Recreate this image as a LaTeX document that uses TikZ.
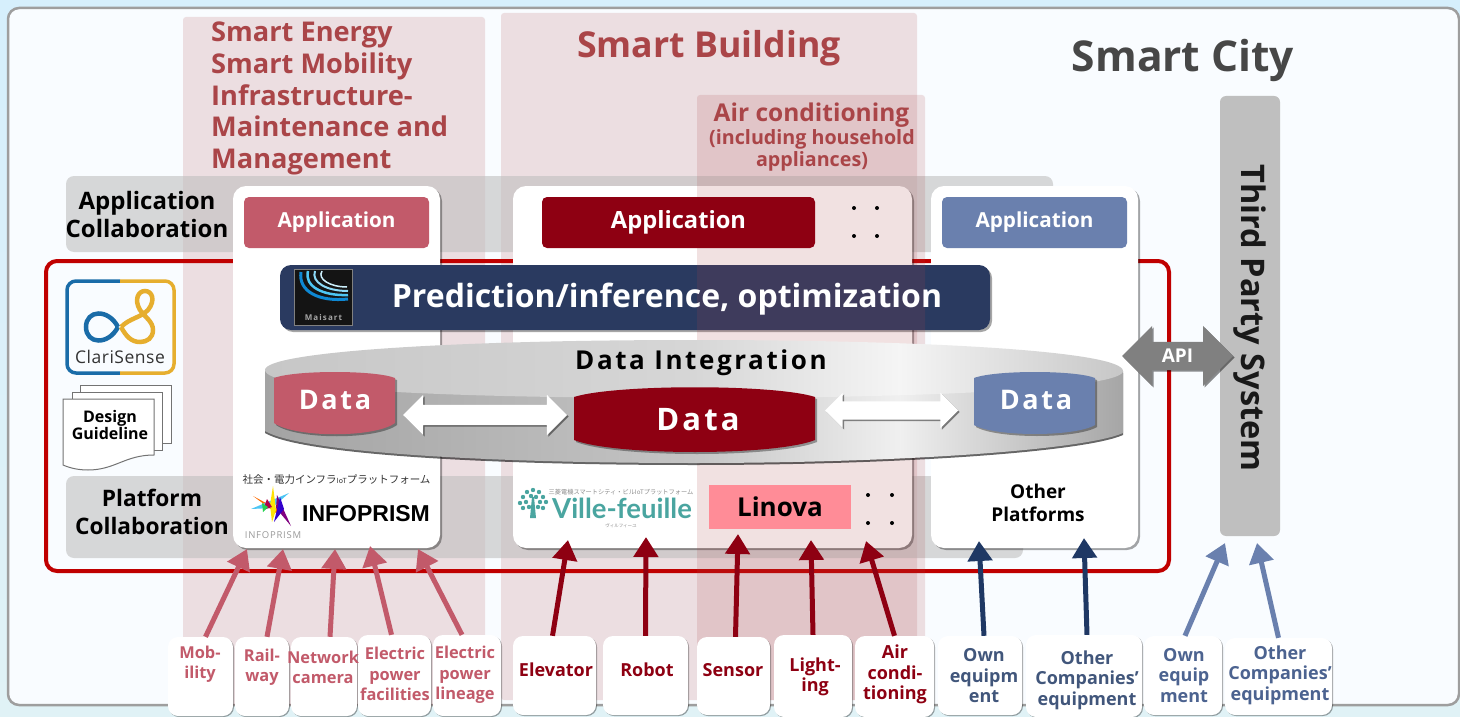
\documentclass[tikz,border=0pt]{standalone}
\usepackage{fontspec}
\setmainfont{Open Sans}
\newfontfamily\cjkfont{Noto Sans CJK JP}
\newfontfamily\latofont{Lato}
\newfontfamily\arialfont{Liberation Sans}
\usetikzlibrary{positioning,shapes.arrows,shadows,arrows.meta}
\definecolor{pinkred}{HTML}{C25A6A}
\definecolor{deepred}{HTML}{8E0012}
\definecolor{steelblue}{HTML}{6A80AE}
\definecolor{navyblue}{HTML}{1F3864}
\definecolor{barblue}{HTML}{2A3A60}
\definecolor{titlered}{HTML}{AA4548}
\definecolor{frame}{HTML}{C00000}
\definecolor{teal}{HTML}{4AA5A0}
\definecolor{skytop}{HTML}{D6EFFC}
\definecolor{skyend}{HTML}{E0F2F6}
\definecolor{panelfill}{HTML}{F9FCFF}
\definecolor{linovapink}{HTML}{FF8C97}
\definecolor{clariblue}{HTML}{1A6CA8}
\definecolor{clarigold}{HTML}{E6AE2E}
\newcommand{\fsz}[2]{\fontsize{#1}{#2}\selectfont}
\pgfdeclarehorizontalshading{diskside}{100bp}{rgb(0bp)=(.64,.64,.64);rgb(25bp)=(.64,.64,.64);rgb(50bp)=(.77,.77,.77);rgb(62bp)=(.94,.94,.94);rgb(75bp)=(.65,.65,.65);rgb(100bp)=(.65,.65,.65)}
\pgfdeclarehorizontalshading{disktop}{100bp}{rgb(0bp)=(.78,.78,.78);rgb(25bp)=(.78,.78,.78);rgb(50bp)=(.84,.84,.84);rgb(62bp)=(.96,.96,.96);rgb(75bp)=(.78,.78,.78);rgb(100bp)=(.78,.78,.78)}
\tikzstyle{softshadow} = [drop shadow={shadow xshift=2pt, shadow yshift=-2pt, opacity=.35, fill=black}]
\tikzstyle{column} = [rectangle, rounded corners=3pt, fill=titlered, fill opacity=.16, inner sep=0pt]
\tikzstyle{band} = [rectangle, rounded corners=8pt, fill=black!25, fill opacity=.6, inner sep=0pt]
\tikzstyle{card} = [rectangle, rounded corners=13pt, fill=white, softshadow, inner sep=0pt]
\tikzstyle{appbox} = [rectangle, rounded corners=5pt, inner sep=0pt, text=white, font=\bfseries\fsz{20.7}{24}]
\tikzstyle{tile} = [rectangle, rounded corners=10pt, fill=white, inner sep=0pt, drop shadow={shadow xshift=1pt, shadow yshift=-1pt, opacity=.35, fill=black}]
\tikzstyle{tiletext} = [inner sep=0pt, align=center, font=\bfseries\fsz{18}{20.5}]
\tikzstyle{pinktext} = [inner sep=0pt, align=center, text=pinkred, font=\bfseries\fsz{16.4}{20.5}]
\tikzstyle{titletext} = [inner sep=0pt, align=left, text=titlered, font=\bfseries\fsz{27.2}{31.7}]
\tikzstyle{sidetext} = [inner sep=0pt, align=center, text=black, font=\bfseries\fsz{24}{28}]
\tikzstyle{datatext} = [inner sep=0pt, text=white, font=\bfseries\fsz{27}{30}\addfontfeature{LetterSpace=10}]
\tikzstyle{twoway} = [double arrow, double arrow tip angle=90, inner sep=0pt, drop shadow={shadow xshift=1.5pt, shadow yshift=-1.5pt, opacity=.45, fill=black}]
\tikzstyle{feed} = [line width=5pt, -{Triangle[length=20pt, width=24pt]}]
\tikzstyle{page} = [draw=black!55, fill=white, line width=1pt]
\begin{document}
\begin{tikzpicture}[x=1pt, y=-1pt]
	\useasboundingbox (0,0) rectangle (1460,717);
	\shade [top color=skytop, bottom color=skyend] (0,0) rectangle (1460,717);
	\node [rectangle, rounded corners=11pt, draw=black!38, line width=2.5pt, fill=panelfill, minimum width=1451, minimum height=697, inner sep=0pt] (citypanel) at (733.5,356.5) {};

	% domain columns and collaboration bands
	\node [column, minimum width=302, minimum height=688] (energycol) at (334,361) {};
	\node [column, minimum width=416, minimum height=687] (buildingcol) at (709,356.5) {};
	\node [band, minimum width=987, minimum height=76] (appband) at (559.5,214) {};
	\node [band, minimum width=957, minimum height=82] (platband) at (544.5,517) {};
	\node [rectangle, rounded corners=11pt, draw=frame, line width=4pt, minimum width=1123, minimum height=310, inner sep=0pt] (redframe) at (607.5,416) {};

	% platform cards
	\node [card, minimum width=207, minimum height=362] (infocard) at (336.5,367) {};
	\node [card, minimum width=399, minimum height=362] (villecard) at (712.5,367) {};
	\node [card, minimum width=207, minimum height=362] (othercard) at (1034.5,367) {};

	% shared bar lies under the air conditioning column
	\node [rectangle, rounded corners=11pt, fill=barblue, softshadow, minimum width=710, minimum height=65, inner sep=0pt] (predictbar) at (635,297.5) {};
	\node [column, minimum width=228, minimum height=605] (aircol) at (811,397.5) {};
	\node [inner sep=0pt, text=white, font=\bfseries\fsz{32}{34}] (predicttext) at (667,299) {Prediction/inference, optimization};

	% Maisart mark
	\node [rectangle, fill=black!92, draw=black!50, line width=1.5pt, minimum width=58, minimum height=56, inner sep=0pt] (maisart) at (323.5,297.5) {};
	\draw [cyan!70!blue, line width=3pt] (301,272) .. controls (298,292) and (320,302) .. (348,299);
	\draw [cyan!70, line width=2.5pt] (308,271) .. controls (304,286) and (322,296) .. (348,295);
	\draw [cyan!45, line width=2pt] (315,271) .. controls (311,282) and (326,291) .. (348,291);
	\draw [white!80!cyan, line width=1.5pt] (322,271) .. controls (317,279) and (330,287) .. (347,287);
	\node [inner sep=0pt, text=black!35, font=\bfseries\fsz{8}{9}\addfontfeature{LetterSpace=14}] (maisarttext) at (323.5,317) {Maisart};

	% applications
	\node [appbox, fill=pinkred, minimum width=185, minimum height=51] (infoapp) at (336.5,222.5) {Application};
	\node [appbox, fill=deepred, minimum width=273, minimum height=51, font=\bfseries\fsz{23.7}{26}] (villeapp) at (678.5,222.5) {Application};
	\node [appbox, fill=steelblue, minimum width=185, minimum height=51] (otherapp) at (1034.5,222.5) {Application};
	\fill (854,208) circle (2) (877,208) circle (2) (854,236) circle (2) (877,236) circle (2);

	% data integration disk
	\shade [shading=diskside, drop shadow={shadow xshift=0pt, shadow yshift=-2pt, opacity=.6, fill=black}] (265,370) -- (265,431) .. controls (300,452) and (480,463) .. (694,463) .. controls (900,463) and (1085,450) .. (1123,433) -- (1123,371) -- cycle;
	\shade [shading=disktop] (265,370) .. controls (265,352) and (450,340) .. (694,340) .. controls (940,340) and (1123,352) .. (1123,371) .. controls (1123,388) and (940,398) .. (694,398) .. controls (450,398) and (265,390) .. (265,370) -- cycle;
	\node [inner sep=0pt, text=black, font=\bfseries\fsz{26}{30}\addfontfeature{LetterSpace=10}] (integration) at (701,363) {Data Integration};

	% data stores
	\fill [pinkred, softshadow] (274,378) .. controls (295,370) and (375,370) .. (395,378) -- (395,423) .. controls (375,438) and (295,438) .. (274,423) -- cycle;
	\fill [deepred, softshadow] (574,397) .. controls (615,384) and (775,384) .. (815,397) -- (815,440) .. controls (775,456) and (615,456) .. (574,440) -- cycle;
	\fill [steelblue, softshadow] (974,378) .. controls (995,370) and (1075,370) .. (1095,378) -- (1095,425) .. controls (1075,437) and (995,437) .. (974,425) -- cycle;
	\node [datatext] (datainfo) at (335,400) {Data};
	\node [datatext, font=\bfseries\fsz{31}{34}\addfontfeature{LetterSpace=10}] (dataville) at (698,420) {Data};
	\node [datatext] (dataother) at (1036,400) {Data};
	\node [twoway, fill=white, inner ysep=10pt, double arrow head extend=10pt, minimum width=40, minimum height=164] (linkleft) at (485,415) {};
	\node [twoway, fill=white, inner ysep=9pt, double arrow head extend=8.5pt, minimum width=35, minimum height=133] (linkright) at (891.5,410.5) {};

	% third party and API
	\node [rectangle, rounded corners=6pt, fill=black!25, minimum width=60, minimum height=440, inner sep=0pt] (thirdparty) at (1250,316) {};
	\node [rotate=-90, inner sep=0pt, text=black!90, font=\bfseries\fsz{32.5}{36}] (thirdtext) at (1250,318) {Third Party System};
	\node [twoway, fill=black!50, text=white, inner ysep=7pt, double arrow head extend=16pt, minimum width=60, minimum height=111, font=\bfseries\fsz{19}{22}] (api) at (1177.5,356) {API};

	% titles
	\node [titletext, anchor=north west] (energytitle) at (211,22) {Smart Energy\\Smart Mobility\\Infrastructure-\\Maintenance and\\Management};
	\node [inner sep=0pt, text=titlered, font=\bfseries\fsz{35.7}{38}] (buildingtitle) at (709,48) {Smart Building};
	\node [inner sep=0pt, text=titlered, font=\bfseries\fsz{24.5}{28}] (airtitle) at (811.5,115) {Air conditioning};
	\node [inner sep=0pt, align=center, text=titlered, font=\bfseries\fsz{19.7}{22}] (airnote) at (812,150) {(including household\\appliances)};
	\node [inner sep=0pt, text=black!72, font=\bfseries\fsz{42.5}{45}] (citytitle) at (1183,60) {Smart City};
	\node [sidetext] (appcollab) at (147,214) {Application\\Collaboration};
	\node [sidetext, font=\bfseries\fsz{22.7}{28}] (platcollab) at (152,512) {Platform\\Collaboration};

	% ClariSense mark
	\draw [line width=3.5pt, rounded corners=9pt, color=clariblue] (120,281) -- (67,281) -- (67,373) -- (120,373);
	\draw [line width=3.5pt, rounded corners=9pt, color=clarigold] (120,281) -- (174,281) -- (174,373) -- (120,373);
	\draw [line width=4.5pt, color=clariblue] (118,327) .. controls (108,308) and (86,310) .. (86,327) .. controls (86,344) and (108,346) .. (118,327);
	\draw [line width=4.5pt, color=clarigold] (121,327) .. controls (130,318) and (140,318) .. (148,310) .. controls (156,300) and (152,291) .. (145,291) .. controls (138,291) and (134,300) .. (140,310) .. controls (146,318) and (153,322) .. (153,330) .. controls (153,338) and (147,342) .. (140,342) .. controls (131,342) and (126,336) .. (121,327);
	\node [inner sep=0pt, text=black!80, font=\fsz{17.5}{19}\addfontfeature{LetterSpace=3}] (clarisense) at (120,357) {ClariSense};

	% design guideline pages
	\draw [page] (80,385) rectangle (171,443);
	\draw [page] (72,392) rectangle (162,450);
	\draw [page] (63,399) -- (154,399) -- (154,455) .. controls (125,455) and (115,470) .. (88,470) .. controls (78,470) and (70,468) .. (63,465) -- cycle;
	\node [inner sep=0pt, align=center, font=\bfseries\fsz{16}{17.5}] (guideline) at (110,425) {Design\\Guideline};

	% INFOPRISM mark
	\fill [orange!85!red] (253,496) -- (279,510) -- (276,513) -- cycle;
	\fill [cyan!70] (251,509) -- (289,493) -- (272,508) -- cycle;
	\fill [yellow!85!orange] (273,486) -- (276,510) -- (272,522) -- (270,505) -- cycle;
	\fill [red!70!blue] (267,499) -- (272,507) -- (263,510) -- cycle;
	\fill [violet] (277,495) -- (291,526) -- (276,508) -- cycle;
	\fill [blue!60!violet] (280,497) -- (284,509) -- (274,522) -- cycle;
	\fill [green!50!teal] (262,503) -- (268,507) -- (263,512) -- cycle;
	\node [inner sep=0pt, text=black!40, font=\fsz{9.5}{11}\addfontfeature{LetterSpace=8}] (infomini) at (273,535) {INFOPRISM};
	\node [inner sep=0pt, text=black!80, font=\cjkfont\fsz{10.5}{12}] (infosub) at (336.5,480) {社会・電力インフラ{\fsz{7}{8}IoT}プラットフォーム};
	\node [inner sep=0pt, text=black, font=\arialfont\bfseries\fsz{23}{26}] (infoprism) at (366,514) {INFOPRISM};

	% Ville-feuille mark
	\fill [teal] (530,518) -- (532,497) -- (534,497) -- (536,518) -- cycle;
	\fill [teal] (533,490) circle (2.2) (527,492) circle (2.2) (539,492) circle (2.2) (523,497) circle (2.2) (531,496) circle (2.2) (536,497) circle (2.2) (543,497) circle (2.2) (520,503) circle (2.2) (526,502) circle (2.2) (540,502) circle (2.2) (546,502) circle (2.2) (523,508) circle (2.2) (529,507) circle (2.2) (538,507) circle (2.2) (543,508) circle (2.2);
	\node [inner sep=0pt, text=black!45, font=\cjkfont\fsz{6.2}{7}] (villesub) at (621,492) {三菱電機スマートシティ・ビルIoTプラットフォーム};
	\node [inner sep=0pt, text=teal, font=\latofont\bfseries\fsz{27.5}{30}] (villename) at (622,508) {Ville-feuille};
	\node [inner sep=0pt, text=black!45, font=\cjkfont\fsz{4.5}{5}] (villekana) at (621,526) {ヴィルフィーユ};

	% Linova and other platforms
	\node [rectangle, fill=linovapink, minimum width=142, minimum height=44, inner sep=0pt, font=\bfseries\fsz{26}{28}] (linova) at (780,507) {Linova};
	\fill (868,495) circle (2) (892,495) circle (2) (868,523) circle (2) (892,523) circle (2);
	\node [inner sep=0pt, align=center, font=\bfseries\fsz{19}{23}] (otherplat) at (1038,503) {Other\\Platforms};

	% field devices
	\node [tile, minimum width=65, minimum height=79] (mobility) at (200.5,676.5) {};
	\node [tile, minimum width=54, minimum height=79] (railway) at (262,676.5) {};
	\node [tile, minimum width=66, minimum height=79] (netcamera) at (324,676.5) {};
	\node [tile, minimum width=73, minimum height=81] (facilities) at (394.5,675.5) {};
	\node [tile, minimum width=68, minimum height=81] (lineage) at (467,675.5) {};
	\node [tile, minimum width=83, minimum height=79] (elevator) at (554.5,675.5) {};
	\node [tile, minimum width=85, minimum height=79] (robot) at (645.5,675.5) {};
	\node [tile, minimum width=73, minimum height=78] (sensor) at (733.5,676) {};
	\node [tile, minimum width=78, minimum height=82] (lighting) at (813,676) {};
	\node [tile, minimum width=79, minimum height=81] (aircon) at (894.5,676.5) {};
	\node [tile, minimum width=84, minimum height=79] (ownequip) at (980,675.5) {};
	\node [tile, minimum width=116, minimum height=82] (othercomp) at (1084,676) {};
	\node [tile, minimum width=78, minimum height=79] (ownthird) at (1183,675.5) {};
	\node [tile, minimum width=107, minimum height=77] (othirdcomp) at (1278.5,676.5) {};

	\node [pinktext] (mobilitytext) at (200,664) {Mob-\\ility};
	\node [pinktext] (railwaytext) at (262,667) {Rail-\\way};
	\node [pinktext] (netcameratext) at (323,667.5) {Network\\camera};
	\node [pinktext] (facilitiestext) at (395,674) {Electric\\power\\facilities};
	\node [pinktext] (lineagetext) at (465,675) {Electric\\power\\lineage};
	\node [tiletext, text=deepred] (elevatortext) at (556,670) {Elevator};
	\node [tiletext, text=deepred] (robottext) at (647,670) {Robot};
	\node [tiletext, text=deepred] (sensortext) at (733,670) {Sensor};
	\node [tiletext, text=deepred] (lightingtext) at (815,677) {Light-\\ing};
	\node [tiletext, text=deepred] (aircontext) at (895,674.5) {Air\\condi-\\tioning};
	\node [tiletext, text=navyblue!85!white] (ownequiptext) at (984,676) {Own\\equipm\\ent};
	\node [tiletext, text=navyblue!85!white] (othercomptext) at (1087,680) {Other\\Companies’\\equipment};
	\node [tiletext, text=steelblue!60!navyblue] (ownthirdtext) at (1184,675.5) {Own\\equip\\ment};
	\node [tiletext, text=steelblue!60!navyblue] (othirdcomptext) at (1280,675) {Other\\Companies’\\equipment};

	% arrow ends on the cards
	\coordinate (mobilityin) at (247,549);
	\coordinate (railwayin) at (283,549);
	\coordinate (netcamerain) at (335,549);
	\coordinate (facilitiesin) at (370,546);
	\coordinate (lineagein) at (418,549);
	\coordinate (elevatorin) at (568,540);
	\coordinate (robotin) at (646,537);
	\coordinate (sensorin) at (738,534);
	\coordinate (lightingin) at (811,540);
	\coordinate (airconin) at (866,541);
	\coordinate (ownequipin) at (979,541);
	\coordinate (othercompin) at (1084,538);
	\coordinate (ownthirdin) at (1225,543);
	\coordinate (othirdcompin) at (1257,543);

	\draw [feed, pinkred] ([xshift=5pt]mobility.north) -- (mobilityin);
	\draw [feed, pinkred] ([xshift=5pt]railway.north) -- (railwayin);
	\draw [feed, pinkred] ([xshift=6pt]netcamera.north) -- (netcamerain);
	\draw [feed, pinkred] ([xshift=-3pt]facilities.north) -- (facilitiesin);
	\draw [feed, pinkred] ([xshift=-5pt]lineage.north) -- (lineagein);
	\draw [feed, deepred] ([xshift=-2pt]elevator.north) -- (elevatorin);
	\draw [feed, deepred] (robot.north) -- (robotin);
	\draw [feed, deepred] ([xshift=2pt]sensor.north) -- (sensorin);
	\draw [feed, deepred] (lighting.north) -- (lightingin);
	\draw [feed, deepred] (aircon.north) -- (airconin);
	\draw [feed, navyblue] ([xshift=4pt]ownequip.north) -- (ownequipin);
	\draw [feed, navyblue] ([xshift=3pt]othercomp.north) -- (othercompin);
	\draw [feed, steelblue] ([xshift=2pt]ownthird.north) -- (ownthirdin);
	\draw [feed, steelblue] (othirdcomp.north) -- (othirdcompin);
\end{tikzpicture}
\end{document}
